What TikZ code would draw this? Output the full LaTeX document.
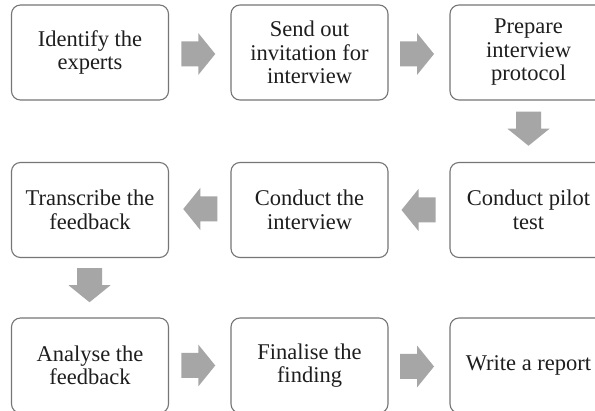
\documentclass[tikz,border=0pt]{standalone}
\usepackage{fontspec}
\setmainfont{Liberation Serif}
\usetikzlibrary{calc}
\definecolor{boxline}{HTML}{767676}
\definecolor{arrowgray}{HTML}{A6A6A6}
\definecolor{txt}{HTML}{1E1E1E}
\tikzset{
  stepbox/.style={draw=boxline, line width=1.1pt, rounded corners=9pt, fill=white,
    minimum width=157pt, minimum height=95pt, align=center, text=txt,
    font=\fontsize{22.5pt}{23.5pt}\selectfont, inner sep=0pt},
  blockarrow/.pic={\fill[arrowgray] (-17,-12.5) -- (0,-12.5) -- (0,-21) -- (17,0) -- (0,21) -- (0,12.5) -- (-17,12.5) -- cycle;}
}
\begin{document}
\begin{tikzpicture}[x=1pt,y=-1pt]
\useasboundingbox (0,0) rectangle (595,411);
\clip (0,0) rectangle (595,411);
\fill[white] (0,0) rectangle (595,411);
% row 1
\node[stepbox] (b1) at (90,52.5) {Identify the\\experts};
\node[stepbox] (b2) at (309.5,52.5) {Send out\\invitation for\\interview};
\node[stepbox] (b3) at (528.5,52.5) {Prepare\\interview\\protocol};
% row 2
\node[stepbox] (b4) at (528.5,210) {Conduct pilot\\test};
\node[stepbox] (b5) at (309.5,210) {Conduct the\\interview};
\node[stepbox] (b6) at (90,210) {Transcribe the\\feedback};
% row 3
\node[stepbox] (b7) at (90,365.5) {Analyse the\\feedback};
\node[stepbox] (b8) at (309.5,365.5) {Finalise the\\finding};
\node[stepbox] (b9) at (528.5,365.5) {Write a report};
% arrows
\pic at ($(b1.east)!0.5!(b2.west)+(-1.5,1.5)$) {blockarrow};
\pic at ($(b2.east)!0.5!(b3.west)+(-2,1.5)$) {blockarrow};
\pic[rotate=-90] at ($(b3.south)!0.5!(b4.north)+(0,-2.5)$) {blockarrow};
\pic[rotate=180] at ($(b4.west)!0.5!(b5.east)+(-0.5,0)$) {blockarrow};
\pic[rotate=180] at ($(b5.west)!0.5!(b6.east)+(0.5,-1)$) {blockarrow};
\pic[rotate=-90] at ($(b6.south)!0.5!(b7.north)+(-0.5,-2.5)$) {blockarrow};
\pic at ($(b7.east)!0.5!(b8.west)+(-1.5,0)$) {blockarrow};
\pic at ($(b8.east)!0.5!(b9.west)+(-2,1)$) {blockarrow};
\end{tikzpicture}
\end{document}
